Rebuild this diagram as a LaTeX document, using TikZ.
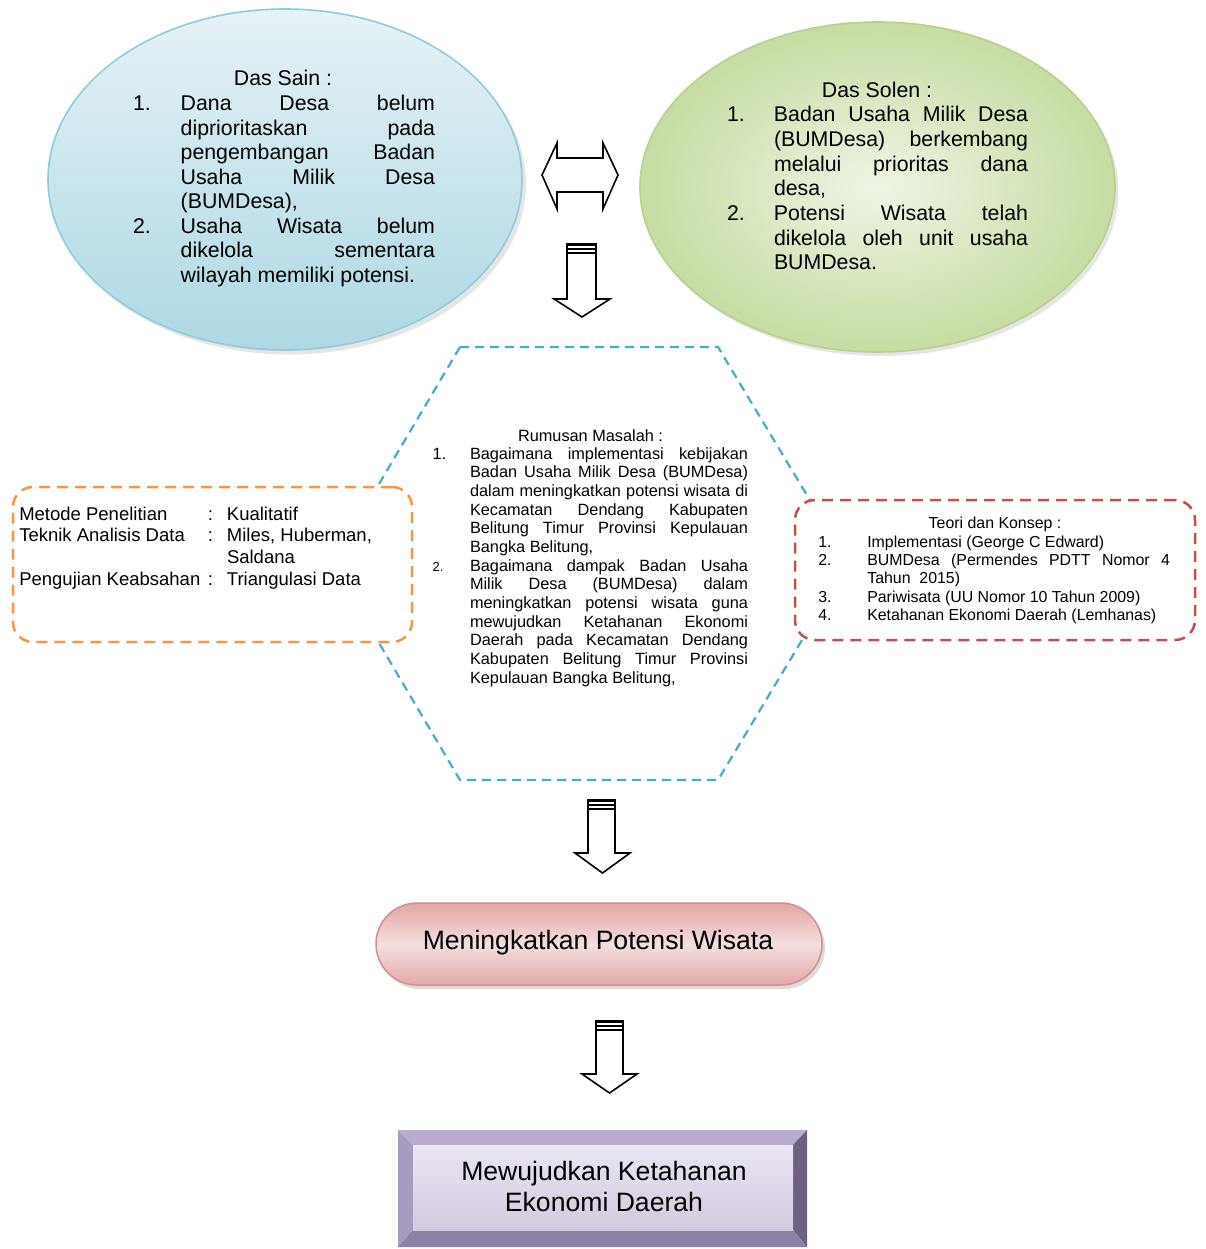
\documentclass[tikz,border=0pt]{standalone}
\usepackage{fontspec}
\setmainfont{Liberation Sans}
\usetikzlibrary{shapes.geometric}
\definecolor{tealdash}{HTML}{4BACC6}
\definecolor{orangedash}{HTML}{F79646}
\definecolor{reddash}{HTML}{C0504D}
\definecolor{blueTop}{HTML}{E6F2F6}
\definecolor{blueBot}{HTML}{ADD8E4}
\definecolor{blueEdge}{HTML}{8FCBDB}
\definecolor{greenIn}{HTML}{EFF5E6}
\definecolor{greenOut}{HTML}{C6DCA2}
\definecolor{greenEdge}{HTML}{B7D08C}
\definecolor{pinkEdge}{HTML}{D48E8E}
\definecolor{pinkTop}{HTML}{E4A4A4}
\definecolor{pinkMid}{HTML}{F4DFDF}
\definecolor{pinkBot}{HTML}{E2A8A8}
\definecolor{purTop}{HTML}{B9ACCE}
\definecolor{purLeft}{HTML}{A99BBF}
\definecolor{purRight}{HTML}{6E6081}
\definecolor{purBot}{HTML}{8E80A4}
\definecolor{purFaceA}{HTML}{EAE5F1}
\definecolor{purFaceB}{HTML}{D4CAE0}
\newcommand\JL[2]{\makebox[#1][s]{#2}}
\newcommand\LL[2]{\makebox[#1][l]{#2}}
\newcommand\DArr[7]{%
  \draw[arrowline] (#1,#5) -- (#1,#6) -- (#3,#6) -- ({(#3+#4)/2},#7) -- (#4,#6) -- (#2,#6) -- (#2,#5) -- cycle;
  \draw[line width=2.4pt] (#1,{#5+1.2}) -- (#2,{#5+1.2});
  \draw[line width=1.5pt] (#1,{#5+5}) -- (#2,{#5+5});
  \draw[line width=1.5pt] (#1,{#5+9}) -- (#2,{#5+9});
}
\begin{document}
\begin{tikzpicture}[x=1pt,y=-1pt,
  txt/.style={inner sep=0pt, outer sep=0pt, anchor=base west},
  head/.style={inner sep=0pt, outer sep=0pt, anchor=base},
  arrowline/.style={draw=black, fill=white, line width=1.6pt, line join=miter},
  hexline/.style={draw=tealdash, line width=2.2pt, dash pattern=on 9pt off 6pt},
  dashbox/.style={rectangle, rounded corners=20pt, fill=white, line width=2.5pt, dash pattern=on 11pt off 7pt, inner sep=0pt},
]
\path[use as bounding box, fill=white] (0,0) rectangle (1205,1249);

% ellipses
\node[ellipse, fill=gray!45, opacity=0.45, minimum width=474pt, minimum height=341pt, inner sep=0pt] (sainshadow) at (289,184) {};
\node[ellipse, draw=blueEdge, line width=1.6pt, top color=blueTop, bottom color=blueBot, minimum width=474pt, minimum height=341pt, inner sep=0pt] (sain) at (285,179.5) {};
\node[ellipse, fill=gray!45, opacity=0.45, minimum width=475pt, minimum height=330pt, inner sep=0pt] (solenshadow) at (881,191) {};
\node[ellipse, draw=greenEdge, line width=1.6pt, inner color=greenIn, outer color=greenOut, minimum width=475pt, minimum height=330pt, inner sep=0pt] (solen) at (877.5,187) {};

% Das Sain text
\node[head] (sainhead) at (283,86) {\fontsize{21.3}{24.5}\selectfont Das Sain :};
\node[txt] (sainlist) at (133,110.7) {\parbox[t]{310pt}{\fontsize{21.3}{24.5}\selectfont
\LL{47.7pt}{1.}\JL{254.3pt}{Dana Desa belum}\\
\hspace*{47.7pt}\JL{254.3pt}{diprioritaskan pada}\\
\hspace*{47.7pt}\JL{254.3pt}{pengembangan Badan}\\
\hspace*{47.7pt}\JL{254.3pt}{Usaha Milik Desa}\\
\hspace*{47.7pt}\LL{254.3pt}{(BUMDesa),}\\
\LL{47.7pt}{2.}\JL{254.3pt}{Usaha Wisata belum}\\
\hspace*{47.7pt}\JL{254.3pt}{dikelola sementara}\\
\hspace*{47.7pt}\LL{254.3pt}{wilayah memiliki potensi.}}};

% Das Solen text
\node[head] (solenhead) at (877,97.7) {\fontsize{21.3}{24.7}\selectfont Das Solen :};
\node[txt] (solenlist) at (727,121.7) {\parbox[t]{310pt}{\fontsize{21.3}{24.7}\selectfont
\LL{47pt}{1.}\JL{254pt}{Badan Usaha Milik Desa}\\
\hspace*{47pt}\JL{254pt}{(BUMDesa) berkembang}\\
\hspace*{47pt}\JL{254pt}{melalui prioritas dana}\\
\hspace*{47pt}\LL{254pt}{desa,}\\
\LL{47pt}{2.}\JL{254pt}{Potensi Wisata telah}\\
\hspace*{47pt}\JL{254pt}{dikelola oleh unit usaha}\\
\hspace*{47pt}\LL{254pt}{BUMDesa.}}};

% double arrow
\draw[arrowline] (542,175) -- (557,143) -- (557,158) -- (603,158) -- (603,143) -- (618,175) -- (603,209) -- (603,192) -- (557,192) -- (557,209) -- cycle;

% down arrows
\DArr{567}{596}{554}{610}{244}{299}{317}
\DArr{588}{615}{575}{630}{800}{853}{873}
\DArr{596}{623}{582}{637}{1021}{1074}{1093}

% hexagon
\coordinate (h1) at (460,347);
\coordinate (h2) at (718,347);
\coordinate (h3) at (848,563.5);
\coordinate (h4) at (718,780);
\coordinate (h5) at (460,780);
\coordinate (h6) at (332,563.5);
\draw[hexline] (h1) -- (h2) -- (h3) -- (h4) -- (h5) -- (h6) -- cycle;

% dashed boxes
\node[dashbox, draw=orangedash, minimum width=399pt, minimum height=155pt] (metode) at (212.5,564.5) {};
\node[dashbox, draw=reddash, minimum width=400pt, minimum height=140pt] (teori) at (995,570) {};

% hexagon text
\node[head] (rumhead) at (590.5,441) {\fontsize{16.3}{18.6}\selectfont Rumusan Masalah :};
\node[txt] (rumlist) at (432.7,459.3) {\parbox[t]{330pt}{\fontsize{16.3}{18.65}\selectfont
\LL{37.3pt}{1.}\JL{278pt}{Bagaimana implementasi kebijakan}\\
\hspace*{37.3pt}\JL{278pt}{Badan Usaha Milik Desa (BUMDesa)}\\
\hspace*{37.3pt}\JL{278pt}{dalam meningkatkan potensi wisata di}\\
\hspace*{37.3pt}\JL{278pt}{Kecamatan Dendang Kabupaten}\\
\hspace*{37.3pt}\JL{278pt}{Belitung Timur Provinsi Kepulauan}\\
\hspace*{37.3pt}\LL{278pt}{Bangka Belitung,}\\
\LL{37.3pt}{{\fontsize{13}{18.65}\selectfont 2.}}\JL{278pt}{Bagaimana dampak Badan Usaha}\\
\hspace*{37.3pt}\JL{278pt}{Milik Desa (BUMDesa) dalam}\\
\hspace*{37.3pt}\JL{278pt}{meningkatkan potensi wisata guna}\\
\hspace*{37.3pt}\JL{278pt}{mewujudkan Ketahanan Ekonomi}\\
\hspace*{37.3pt}\JL{278pt}{Daerah pada Kecamatan Dendang}\\
\hspace*{37.3pt}\JL{278pt}{Kabupaten Belitung Timur Provinsi}\\
\hspace*{37.3pt}\LL{278pt}{Kepulauan Bangka Belitung,}}};

% left box text
\node[txt] (metodetext) at (19.3,520) {\parbox[t]{390pt}{\fontsize{18.5}{21.67}\selectfont
\LL{188.7pt}{Metode Penelitian}\LL{19pt}{:}Kualitatif\\
\LL{188.7pt}{Teknik Analisis Data}\LL{19pt}{:}Miles, Huberman,\\
\LL{188.7pt}{}\LL{19pt}{}Saldana\\
\LL{188.7pt}{Pengujian Keabsahan}\LL{19pt}{:}Triangulasi Data}};

% right box text
\node[head] (teorihead) at (995,528.3) {\fontsize{15.9}{18.1}\selectfont Teori dan Konsep :};
\node[txt] (teoritext) at (818.3,547.7) {\parbox[t]{360pt}{\fontsize{15.9}{18.1}\selectfont
\LL{49pt}{1.}\LL{302.7pt}{Implementasi (George C Edward)}\\
\LL{49pt}{2.}\JL{302.7pt}{BUMDesa (Permendes PDTT Nomor 4}\\
\hspace*{49pt}\LL{302.7pt}{Tahun\ \ 2015)}\\
\LL{49pt}{3.}\LL{302.7pt}{Pariwisata (UU Nomor 10 Tahun 2009)}\\
\LL{49pt}{4.}\LL{302.7pt}{Ketahanan Ekonomi Daerah (Lemhanas)}}};

% pink rounded box
\node[rectangle, rounded corners=41pt, fill=gray!55, opacity=0.5, minimum width=446pt, minimum height=82pt, inner sep=0pt] (pinkshadow) at (602,948) {};
\node[rectangle, rounded corners=41pt, draw=pinkEdge, line width=1.5pt, top color=pinkTop, bottom color=pinkBot, middle color=pinkMid, minimum width=446pt, minimum height=82pt, inner sep=0pt] (potensi) at (599,944) {};
\node[head] (potensitext) at (598,949.3) {\fontsize{26.6}{31}\selectfont Meningkatkan Potensi Wisata};

% purple bevel box
\coordinate (o1) at (398,1130);
\coordinate (o2) at (807,1130);
\coordinate (o3) at (807,1247);
\coordinate (o4) at (398,1247);
\coordinate (i1) at (413,1145);
\coordinate (i2) at (793,1145);
\coordinate (i3) at (793,1230);
\coordinate (i4) at (413,1230);
\fill[purTop] (o1) -- (o2) -- (i2) -- (i1) -- cycle;
\fill[purLeft] (o1) -- (i1) -- (i4) -- (o4) -- cycle;
\fill[purRight] (o2) -- (o3) -- (i3) -- (i2) -- cycle;
\fill[purBot] (o4) -- (i4) -- (i3) -- (o3) -- cycle;
\shade[top color=purFaceA, bottom color=purFaceB] (i1) rectangle (i3);
\node[head] (ekonomi) at (604,1180) {\parbox[t]{360pt}{\centering\fontsize{26.6}{31}\selectfont Mewujudkan Ketahanan\\Ekonomi Daerah}};
\end{tikzpicture}
\end{document}
